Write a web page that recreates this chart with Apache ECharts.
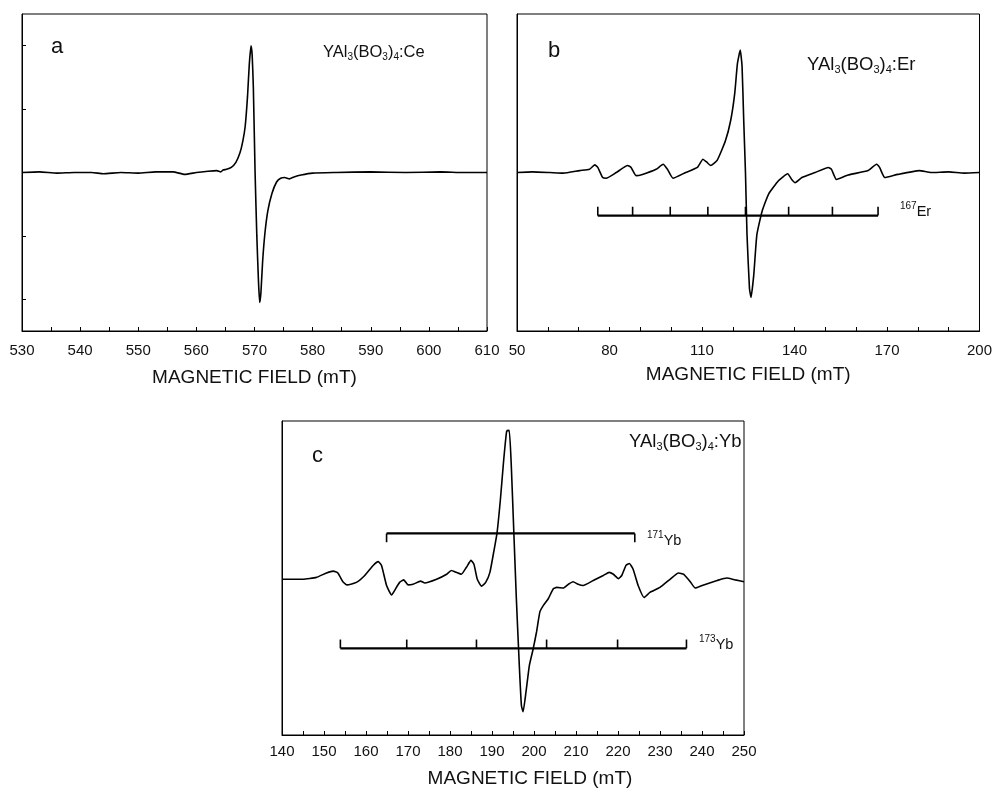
<!DOCTYPE html>
<html>
<head>
<meta charset="utf-8">
<script src="https://cdn.jsdelivr.net/npm/echarts@6/dist/echarts.min.js"></script>
<style>
  html, body { margin: 0; padding: 0; background: #fff; }
  #main { width: 995px; height: 789px; }
</style>
</head>
<body>
<div id="main"></div>
<script>
// panel a: YAl3(BO3)4:Ce
var fieldA = [530, 533, 536, 539, 542, 544, 547, 550, 553, 556, 558, 560, 562, 563.5, 564.2, 564.6, 565.2, 566, 566.8, 567.5,
  568, 568.4, 568.8, 569.1, 569.4, 569.6, 569.8, 570.1, 570.4, 570.7, 570.9, 571.1, 571.4, 571.8, 572.3, 573, 573.8, 574.5,
  575.2, 576, 576.8, 578, 580, 584, 590, 596, 602, 606, 610];
var signalA = [0, 0.01, -0.01, 0, 0, -0.02, 0, -0.01, 0.01, 0.01, -0.03, 0, 0.02, 0.03, 0.01, 0.04, 0.05, 0.08, 0.16, 0.31,
  0.5, 0.73, 1.2, 1.7, 2.0, 1.85, 1.35, 0, -1.0, -1.75, -2.05, -1.9, -1.4, -0.95, -0.6, -0.33, -0.15, -0.09,
  -0.08, -0.1, -0.07, -0.04, -0.01, 0, 0.01, 0, 0.01, 0, 0];

// panel b: YAl3(BO3)4:Er
var fieldB = [50, 55, 60.6, 65, 70.3, 73.5, 75.2, 76.2, 77.8, 78.9, 82.2, 85.9, 87.0, 88.6, 90.7, 95.1, 97.4, 98.8, 100.6, 104.7,
  108.5, 110.3, 111.4, 112.8, 114.9, 117.6, 119.3, 120.6, 121.5, 122.4, 123.0, 123.5, 124.1, 124.6, 125.4, 125.9, 126.8, 127.8, 129.5, 131.6,
  134.8, 137.8, 139.1, 140.2, 142.4, 146.7, 151.0, 152.0, 153.6, 157.4, 163.9, 166.6, 167.6, 169.3, 173.5, 180.5, 184.3, 190, 195, 200];
var signalB = [0, 0.01, 0, -0.01, 0.03, 0.05, 0.12, 0.08, -0.08, -0.09, 0, 0.11, 0.08, -0.05, -0.03, 0.05, 0.13, 0.05, -0.09, 0,
  0.08, 0.21, 0.17, 0.11, 0.19, 0.50, 0.82, 1.24, 1.72, 1.93, 1.67, 0.87, 0, -0.98, -1.83, -1.97, -1.61, -0.98, -0.61, -0.34,
  -0.13, -0.02, -0.11, -0.16, -0.08, 0, 0.08, 0.05, -0.11, -0.04, 0.03, 0.13, 0.08, -0.08, -0.03, 0.03, 0, 0.01, -0.01, 0];
var erTicks = [76.2, 87.5, 99.7, 111.9, 124.1, 138.1, 152.3, 167.1];
var erBarY = -0.68, erTickY = -0.54;

// panel c: YAl3(BO3)4:Yb
var fieldC = [140, 145, 148.2, 150.6, 152.2, 153.3, 154.5, 155.5, 157.7, 159.7, 161.7, 162.9, 163.7, 164.9, 166.1, 166.8, 168, 169, 170, 171.2,
  173, 174, 176.8, 179.2, 180.3, 181.5, 182.7, 183.9, 185, 185.7, 186.5, 187.5, 188.5, 189.5, 190.4, 191.2, 192, 192.8, 193.5, 194.1,
  194.6, 195.2, 195.8, 196.5, 197, 197.4, 198.1, 198.9, 199.8, 200.6, 201.4, 202.2, 203.4, 204.6, 205.4, 207, 208.2, 209.3, 210.5, 211.7,
  214.1, 216.5, 217.9, 218.9, 220.1, 220.9, 221.9, 222.7, 223.6, 224.8, 226.2, 227.6, 230, 232.4, 234.4, 235.6, 237.2, 238.4, 240.4, 243.6,
  245.9, 247.9, 250];
var signalC = [-0.02, -0.02, 0.01, 0.08, 0.11, 0.08, -0.06, -0.11, -0.07, 0.04, 0.20, 0.26, 0.20, -0.12, -0.27, -0.20, -0.07, -0.03, -0.11, -0.10,
  -0.05, -0.08, -0.02, 0.06, 0.12, 0.09, 0.06, 0.17, 0.28, 0.22, -0.02, -0.13, -0.07, 0.09, 0.41, 0.72, 1.25, 1.89, 2.34, 2.35,
  1.78, 0.72, -0.33, -1.39, -2.03, -2.13, -1.81, -1.39, -1.13, -0.86, -0.54, -0.44, -0.33, -0.17, -0.15, -0.16, -0.10, -0.06, -0.10, -0.12,
  -0.04, 0.04, 0.09, 0.06, -0.01, 0.04, 0.20, 0.23, 0.14, -0.12, -0.31, -0.23, -0.15, -0.02, 0.08, 0.06, -0.06, -0.16, -0.11, -0.04,
  0.0, -0.03, -0.06];
var yb171Ticks = [164.9, 224.0];
var yb171BarY = 0.71, yb171TickY = 0.57;
var yb173Ticks = [153.9, 169.7, 186.3, 203.0, 219.9, 236.3];
var yb173BarY = -1.12, yb173TickY = -0.98;

var FONT = 'Liberation Sans, Arial, Helvetica, sans-serif';

function zip(xs, ys) {
  return xs.map(function (x, i) { return [x, ys[i]]; });
}

function spectrum(idx, xs, ys) {
  return {
    type: 'line', xAxisIndex: idx, yAxisIndex: idx,
    data: zip(xs, ys), showSymbol: false, smooth: 0.15,
    lineStyle: { color: '#000', width: 1.6 }
  };
}

function stickBar(idx, ticks, barY) {
  return {
    type: 'line', xAxisIndex: idx, yAxisIndex: idx,
    data: [[ticks[0], barY], [ticks[ticks.length - 1], barY]],
    showSymbol: false, lineStyle: { color: '#000', width: 2.4 }
  };
}

function stickTicks(idx, ticks, barY, tipY) {
  return {
    type: 'custom', xAxisIndex: idx, yAxisIndex: idx,
    data: ticks.map(function (t) { return [t, barY, tipY]; }),
    renderItem: function (params, api) {
      var p0 = api.coord([api.value(0), api.value(1)]);
      var p1 = api.coord([api.value(0), api.value(2)]);
      return {
        type: 'line',
        shape: { x1: p0[0], y1: p0[1], x2: p1[0], y2: p1[1] },
        style: { stroke: '#000', lineWidth: 1.6 }
      };
    }
  };
}

function xAxisOf(idx, min, max, step, labelStep, gap, margin, pad) {
  return {
    gridIndex: idx, type: 'value', min: min, max: max, interval: step,
    axisLine: { onZero: false, lineStyle: { color: '#000', width: 1 } },
    axisTick: { inside: true, length: 4, lineStyle: { color: '#000' } },
    axisLabel: {
      color: '#111', fontSize: 15, fontFamily: FONT, margin: margin,
      formatter: function (v) { return (Math.round(v - min) % labelStep === 0) ? String(v) : ''; }
    },
    splitLine: { show: false },
    name: 'MAGNETIC FIELD (mT)', nameLocation: 'middle', nameGap: gap,
    nameTextStyle: { color: '#111', fontSize: 19, fontFamily: FONT, padding: pad || 0 }
  };
}

function yAxisOf(idx, ticks) {
  return {
    gridIndex: idx, type: 'value', min: -2.5, max: 2.5,
    axisLine: { show: true, onZero: false, lineStyle: { color: '#000' } },
    axisTick: ticks ? { show: true, inside: true, length: 4, customValues: [-2, -1, 0, 1, 2], lineStyle: { color: '#000' } } : { show: false },
    axisLabel: { show: false },
    splitLine: { show: false }
  };
}

function richFor(subSize) {
  return {
    s: { fontSize: subSize, lineHeight: 10, verticalAlign: 'bottom', fontFamily: FONT, fill: '#111' },
    u: { fontSize: subSize, lineHeight: 10, verticalAlign: 'top', fontFamily: FONT, fill: '#111' }
  };
}

function label(x, y, text, size, subSize) {
  return {
    type: 'text', x: x, y: y,
    style: {
      text: text, fill: '#111', fontSize: size, fontFamily: FONT,
      lineHeight: 21, verticalAlign: 'middle', align: 'left', rich: richFor(subSize || 10)
    }
  };
}

var myChart = echarts.init(document.getElementById('main'));
var option = {
  animation: false,
  backgroundColor: '#fff',
  grid: [
    { left: 22, top: 14, width: 465, height: 317, show: true, borderColor: '#000', borderWidth: 1 },
    { left: 517, top: 14, width: 465, height: 317, show: true, borderColor: '#000', borderWidth: 1 },
    { left: 282, top: 421, width: 462, height: 316, show: true, borderColor: '#000', borderWidth: 1 }
  ],
  xAxis: [
    xAxisOf(0, 530, 610, 5, 10, 37, 12),
    xAxisOf(1, 50, 200, 10, 30, 34, 12),
    xAxisOf(2, 140, 250, 5, 10, 34, 9, [0, 0, 0, 34])
  ],
  yAxis: [yAxisOf(0, true), yAxisOf(1, false), yAxisOf(2, false)],
  graphic: [
    label(51, 47, 'a', 22),
    label(548, 51, 'b', 22),
    label(312, 456, 'c', 22),
    label(323, 52, 'YAl{s|3}(BO{s|3}){s|4}:Ce', 16.5, 10),
    label(807, 65, 'YAl{s|3}(BO{s|3}){s|4}:Er', 18.5, 11),
    label(629, 442, 'YAl{s|3}(BO{s|3}){s|4}:Yb', 18.5, 11),
    label(900, 212, '{u|167}Er', 14.5, 10),
    label(647, 541, '{u|171}Yb', 14.5, 10),
    label(699, 645, '{u|173}Yb', 14.5, 10)
  ],
  series: [
    spectrum(0, fieldA, signalA),
    spectrum(1, fieldB, signalB),
    stickBar(1, erTicks, erBarY),
    stickTicks(1, erTicks, erBarY, erTickY),
    spectrum(2, fieldC, signalC),
    stickBar(2, yb171Ticks, yb171BarY),
    stickTicks(2, yb171Ticks, yb171BarY, yb171TickY),
    stickBar(2, yb173Ticks, yb173BarY),
    stickTicks(2, yb173Ticks, yb173BarY, yb173TickY)
  ]
};
myChart.setOption(option);
</script>
</body>
</html>
